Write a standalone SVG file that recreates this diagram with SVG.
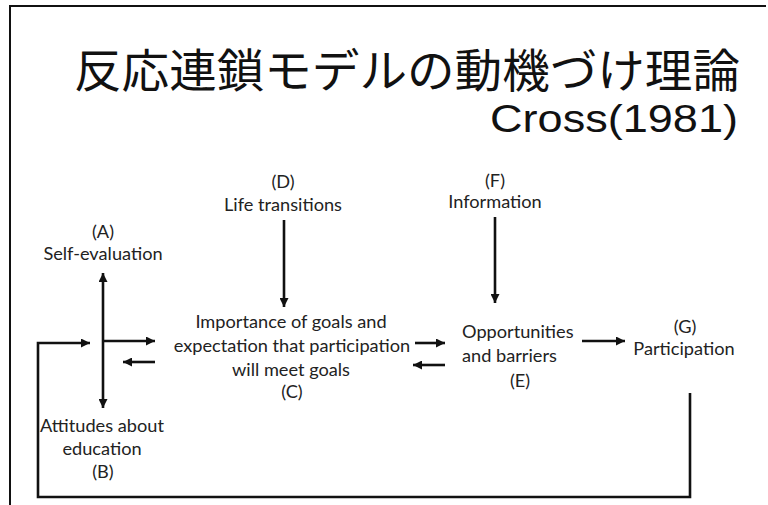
<svg xmlns="http://www.w3.org/2000/svg" width="768" height="505" viewBox="0 0 768 505">
<style>
.t{font-family:Lato,"Open Sans","Noto Sans",sans-serif;font-size:18.2px;fill:#222;text-anchor:middle}
.l{text-anchor:start}
.c{fill:none;stroke:#111;stroke-width:2.6}
.f{fill:none;stroke:#111;stroke-width:2}
</style>
<defs>
<marker id="ah" viewBox="0 0 10 10" refX="10" refY="5" markerWidth="11" markerHeight="9" markerUnits="userSpaceOnUse" orient="auto-start-reverse">
<path d="M0,0 L10,5 L0,10 z" fill="#111"/>
</marker>
</defs>
<rect width="768" height="505" fill="#fff"/>
<path class="f" d="M10,505 V6 H766"/>
<g id="title">
<text x="74" y="87" font-family="'Noto Sans CJK JP',sans-serif" font-size="46" fill="#111" textLength="666" lengthAdjust="spacingAndGlyphs">反応連鎖モデルの動機づけ理論</text>
<text x="490" y="132" font-family="'Liberation Sans',Arial,sans-serif" font-size="38" fill="#111" textLength="248" lengthAdjust="spacingAndGlyphs">Cross(1981)</text>
</g>
<g id="nodeA"><text class="t" x="103" y="238">(A)</text><text class="t" x="103" y="260">Self-evaluation</text></g>
<g id="nodeB"><text class="t" x="102" y="432">Attitudes about</text><text class="t" x="102" y="455">education</text><text class="t" x="103" y="478">(B)</text></g>
<g id="nodeC"><text class="t" x="291" y="328">Importance of goals and</text><text class="t" x="292" y="352">expectation that participation</text><text class="t" x="291" y="376">will meet goals</text><text class="t" x="292" y="398">(C)</text></g>
<g id="nodeD"><text class="t" x="283" y="188">(D)</text><text class="t" x="283" y="211">Life transitions</text></g>
<g id="nodeE"><text class="t l" x="462" y="338">Opportunities</text><text class="t l" x="462" y="362">and barriers</text><text class="t" x="520" y="387">(E)</text></g>
<g id="nodeF"><text class="t" x="495" y="187">(F)</text><text class="t" x="495" y="208">Information</text></g>
<g id="nodeG"><text class="t" x="685" y="333">(G)</text><text class="t" x="684" y="355">Participation</text></g>
<g id="connectors">
<line class="c" x1="103" y1="273" x2="103" y2="408" marker-start="url(#ah)" marker-end="url(#ah)"/>
<line class="c" x1="103" y1="341" x2="155" y2="341" marker-end="url(#ah)"/>
<line class="c" x1="155" y1="362" x2="123" y2="362" marker-end="url(#ah)"/>
<polyline class="c" points="690,393 690,497 38,497 38,343 90,343" marker-end="url(#ah)"/>
<line class="c" x1="284" y1="220" x2="284" y2="307" marker-end="url(#ah)"/>
<line class="c" x1="495" y1="217" x2="495" y2="303" marker-end="url(#ah)"/>
<line class="c" x1="415" y1="343" x2="445" y2="343" marker-end="url(#ah)"/>
<line class="c" x1="445" y1="365" x2="413" y2="365" marker-end="url(#ah)"/>
<line class="c" x1="582" y1="341" x2="625" y2="341" marker-end="url(#ah)"/>
</g>
</svg>
